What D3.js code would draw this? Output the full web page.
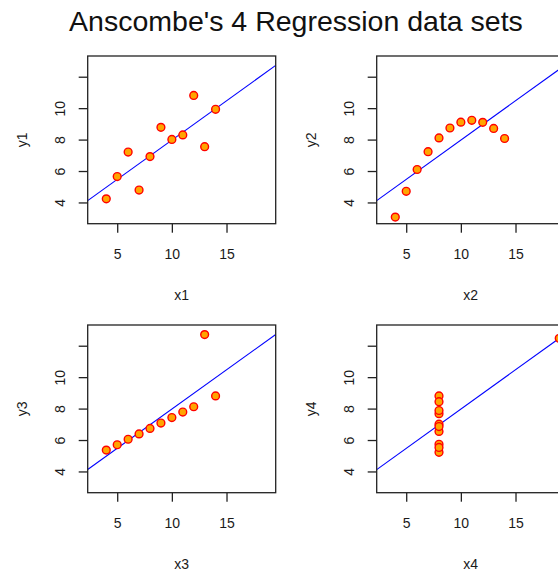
<!DOCTYPE html>
<html><head><meta charset="utf-8">
<script src="https://cdn.jsdelivr.net/npm/d3@7"></script>
<style>
body{margin:0;background:#fff;}
text{font-family:"Liberation Sans",Arial,sans-serif;fill:#1a1a1a;}
</style></head>
<body>
<svg id="chart" width="558" height="573"></svg>
<script>
const title = "Anscombe's 4 Regression data sets";
const x123 = [10, 8, 13, 9, 11, 14, 6, 4, 12, 7, 5];
const x4 = [8, 8, 8, 8, 8, 8, 8, 19, 8, 8, 8];
const y1 = [8.04, 6.95, 7.58, 8.81, 8.33, 9.96, 7.24, 4.26, 10.84, 4.82, 5.68];
const y2 = [9.14, 8.14, 8.74, 8.77, 9.26, 8.10, 6.13, 3.10, 9.13, 7.26, 4.74];
const y3 = [7.46, 6.77, 12.74, 7.11, 7.81, 8.84, 6.08, 5.39, 8.15, 6.42, 5.73];
const y4 = [6.58, 5.76, 7.71, 8.84, 8.47, 7.04, 5.25, 12.50, 5.56, 7.91, 6.89];
const xTicks = [5, 10, 15];
const yTicks = [4, 6, 8, 10, 12];
const yTickLabels = ["4", "6", "8", "10", ""];
const xLabels = ["x1", "x2", "x3", "x4"];
const yLabels = ["y1", "y2", "y3", "y4"];

const sets = [
  {x: x123, y: y1}, {x: x123, y: y2}, {x: x123, y: y3}, {x: x4, y: y4}
];
const svg = d3.select("#chart");

svg.append("text").attr("x", 296).attr("y", 31).attr("text-anchor", "middle")
  .style("font-size", "28.5px").style("fill", "#111").text(title);

const W = 188, H = 167.7;
const origins = [[87.7, 56], [376.7, 56], [87.7, 325], [376.7, 325]];
const x = d3.scaleLinear().domain([2.3, 19.5]).range([0, W]);
const y = d3.scaleLinear().domain([2.68, 13.35]).range([H, 0]);

function fit(xs, ys) {
  const mx = d3.mean(xs), my = d3.mean(ys);
  let sxy = 0, sxx = 0;
  xs.forEach((v, i) => { sxy += (v - mx) * (ys[i] - my); sxx += (v - mx) * (v - mx); });
  const b = sxy / sxx;
  return {a: my - b * mx, b};
}

sets.forEach((s, i) => {
  const [ox, oy] = origins[i];
  const g = svg.append("g").attr("transform", `translate(${ox},${oy})`);
  const cid = "clip" + i;
  g.append("clipPath").attr("id", cid).append("rect").attr("width", W).attr("height", H);

  const xa = g.append("g").attr("transform", `translate(0,${H})`)
    .call(d3.axisBottom(x).tickValues(xTicks).tickSize(9).tickPadding(16).tickFormat(d3.format("d")));
  const ya = g.append("g")
    .call(d3.axisLeft(y).tickValues(yTicks).tickSize(9).tickPadding(4).tickFormat((d, j) => yTickLabels[j]));
  [xa, ya].forEach(a => {
    a.select(".domain").remove();
    a.selectAll("line").attr("stroke", "#222").attr("stroke-width", 1.3);
    a.selectAll("text").style("font-size", "14px").style("fill", "#1a1a1a");
  });
  ya.selectAll("text").attr("text-anchor", "middle")
    .attr("transform", d => `translate(${-28},${y(d)}) rotate(-90)`)
    .attr("x", 0).attr("y", 0).attr("dy", "0.35em");
  ya.selectAll(".tick").attr("transform", null);
  ya.selectAll(".tick line").attr("transform", d => `translate(0,${y(d)})`);

  const f = fit(s.x, s.y);
  g.append("line").attr("clip-path", `url(#${cid})`)
    .attr("x1", x(x.domain()[0])).attr("y1", y(f.a + f.b * x.domain()[0]))
    .attr("x2", x(x.domain()[1])).attr("y2", y(f.a + f.b * x.domain()[1]))
    .attr("stroke", "#0000ff").attr("stroke-width", 1.1);

  g.selectAll("circle.pt").data(s.x.map((v, k) => [v, s.y[k]])).enter().append("circle")
    .attr("class", "pt").attr("cx", d => x(d[0])).attr("cy", d => y(d[1])).attr("r", 3.9)
    .attr("fill", "#ffa500").attr("stroke", "#ff0000").attr("stroke-width", 1.4);

  g.append("rect").attr("width", W).attr("height", H).attr("fill", "none")
    .attr("stroke", "#222").attr("stroke-width", 1.3);

  g.append("text").attr("x", W / 2).attr("y", H + 71).attr("dy", "0.35em")
    .attr("text-anchor", "middle").style("font-size", "14px").text(xLabels[i]);
  g.append("text").attr("transform", `translate(${-66},${H / 2}) rotate(-90)`).attr("dy", "0.35em")
    .attr("text-anchor", "middle").style("font-size", "14px").text(yLabels[i]);
});
</script>
</body></html>
